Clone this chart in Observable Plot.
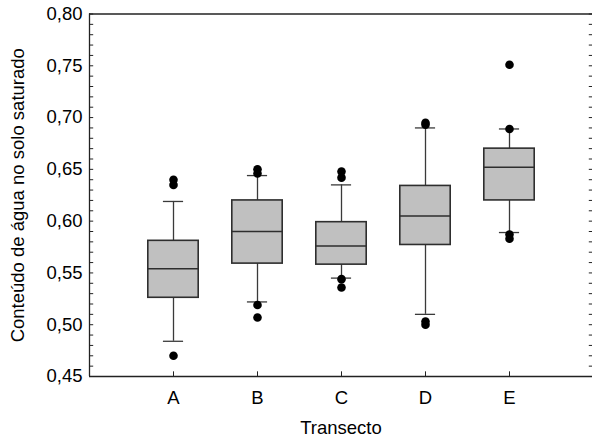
<!DOCTYPE html>
<html>
<head>
<meta charset="utf-8">
<script src="https://cdn.jsdelivr.net/npm/d3@7"></script>
<script src="https://cdn.jsdelivr.net/npm/@observablehq/plot@0.6"></script>
<style>
  html, body { margin: 0; padding: 0; background: #fff; }
  svg { display: block; }
</style>
</head>
<body>
<div id="chart"></div>
<script>
// ---- data ----
const categories  = ["A", "B", "C", "D", "E"];
const q1          = [0.526, 0.559, 0.558, 0.577, 0.620];
const medians     = [0.554, 0.590, 0.576, 0.605, 0.652];
const q3          = [0.581, 0.620, 0.599, 0.634, 0.670];
const whiskerLow  = [0.484, 0.522, 0.545, 0.510, 0.589];
const whiskerHigh = [0.619, 0.644, 0.635, 0.690, 0.689];
const outlierCat  = ["A", "A", "A", "B", "B", "B", "B", "C", "C", "C", "C", "D", "D", "D", "D", "E", "E", "E", "E"];
const outlierVal  = [0.470, 0.635, 0.640, 0.507, 0.519, 0.646, 0.650, 0.536, 0.544, 0.642, 0.648, 0.500, 0.503, 0.693, 0.695, 0.583, 0.587, 0.689, 0.751];
const yTickValues = [0.45, 0.50, 0.55, 0.60, 0.65, 0.70, 0.75, 0.80];
const yTitle = "Conteúdo de água no solo saturado";
const xTitle = "Transecto";

// ---- build tables ----
const boxes = categories.map((c, k) => ({
  cat: c, i: k + 1, q1: q1[k], med: medians[k], q3: q3[k], lo: whiskerLow[k], hi: whiskerHigh[k]
}));
const outliers = outlierVal.map((v, k) => ({ i: categories.indexOf(outlierCat[k]) + 1, v }));
const minorTicks = d3.range(45, 81).map(d => d / 100);
const catPositions = categories.map((c, k) => k + 1);

const fmt = d => d.toFixed(2).replace(".", ",");
const edge = "#222";

const chart = Plot.plot({
  width: 592,
  height: 437,
  marginLeft: 89,
  marginRight: 0,
  marginTop: 13.5,
  marginBottom: 61,
  style: { fontFamily: "'Liberation Sans', Arial, sans-serif", fontSize: "18.5px", color: "#000", background: "#fff" },
  x: { domain: [0, 6], range: [89, 593], axis: null },
  y: { domain: [0.45, 0.80], axis: null },
  marks: [
    // whiskers
    Plot.ruleX(boxes, { x: "i", y1: "q3", y2: "hi", stroke: "#3a3a3a", strokeWidth: 1.3 }),
    Plot.ruleX(boxes, { x: "i", y1: "lo", y2: "q1", stroke: "#3a3a3a", strokeWidth: 1.3 }),
    // caps
    Plot.ruleY(boxes, { y: "hi", x1: d => d.i - 0.12, x2: d => d.i + 0.12, stroke: "#3a3a3a", strokeWidth: 1.3 }),
    Plot.ruleY(boxes, { y: "lo", x1: d => d.i - 0.12, x2: d => d.i + 0.12, stroke: "#3a3a3a", strokeWidth: 1.3 }),
    // boxes
    Plot.rect(boxes, { x1: d => d.i - 0.3, x2: d => d.i + 0.3, y1: "q1", y2: "q3", fill: "#c0c0c0", stroke: "#2e2e2e", strokeWidth: 1.6 }),
    // medians
    Plot.ruleY(boxes, { y: "med", x1: d => d.i - 0.3, x2: d => d.i + 0.3, stroke: "#2e2e2e", strokeWidth: 1.5 }),
    // outliers
    Plot.dot(outliers, { x: "i", y: "v", r: 4.3, fill: "#000", stroke: "none" }),
    // frame
    Plot.ruleY([0.80], { stroke: edge, strokeWidth: 1.3 }),
    Plot.ruleY([0.45], { stroke: edge, strokeWidth: 1.3 }),
    Plot.ruleX([0], { stroke: edge, strokeWidth: 1.3 }),
    Plot.ruleX([6], { stroke: edge, strokeWidth: 1.3 }),
    // inward ticks
    Plot.ruleY(minorTicks, { y: d => d, x1: 0, x2: 0.05, stroke: edge }),
    Plot.ruleY(minorTicks, { y: d => d, x1: 5.95, x2: 6, stroke: edge }),
    Plot.ruleX(catPositions, { x: d => d, y1: 0.45, y2: 0.4545, stroke: edge }),
    // tick labels
    Plot.axisY(yTickValues, { anchor: "left", tickSize: 0, tickPadding: 7, tickFormat: fmt, label: null }),
    Plot.axisX(catPositions, { anchor: "bottom", tickSize: 0, tickPadding: 14, tickFormat: i => categories[i - 1], label: null }),
    // titles
    Plot.text([xTitle], { frameAnchor: "bottom", dy: 52, text: d => d, textAnchor: "middle", lineAnchor: "middle" }),
    Plot.text([yTitle], { frameAnchor: "left", dx: -71, text: d => d, rotate: -90, textAnchor: "middle", lineAnchor: "middle" })
  ]
});
document.getElementById("chart").appendChild(chart);
</script>
</body>
</html>
